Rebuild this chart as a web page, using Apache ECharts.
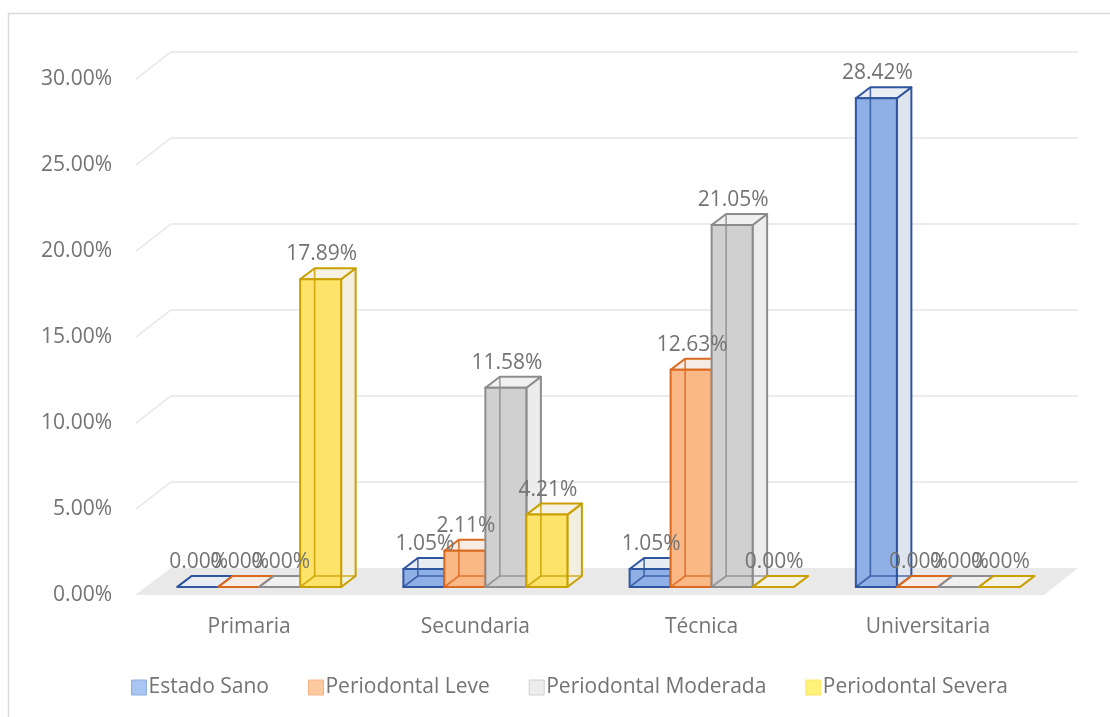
<!DOCTYPE html>
<html>
<head>
<meta charset="utf-8">
<script src="https://cdn.jsdelivr.net/npm/echarts@6/dist/echarts.min.js"></script>
<style>html,body{margin:0;padding:0;background:#fff}#c{width:1110px;height:717px}</style>
</head>
<body>
<div id="c"></div>
<script>
// ---- data ----
const categories = ['Primaria', 'Secundaria', 'Técnica', 'Universitaria'];
const seriesNames = ['Estado Sano', 'Periodontal Leve', 'Periodontal Moderada', 'Periodontal Severa'];
const estadoSano = [0.00, 1.05, 1.05, 28.42];
const periodontalLeve = [0.00, 2.11, 12.63, 0.00];
const periodontalModerada = [0.00, 11.58, 21.05, 0.00];
const periodontalSevera = [17.89, 4.21, 0.00, 0.00];
const yTicks = [0, 5, 10, 15, 20, 25, 30];

// ---- styles ----
const styles = [
  {front:'#8fb0e6', side:'#dfe4ee', top:'#e8ecf3', border:'#2f569f', legend:'#a9c5f1', legendBorder:'#8eaee0'},
  {front:'#fab887', side:'#f3e7de', top:'#f6ece4', border:'#d9691e', legend:'#fcca9f', legendBorder:'#f4b183'},
  {front:'#d0d0d0', side:'#ececec', top:'#f0f0f0', border:'#8c8c8c', legend:'#ededed', legendBorder:'#d0d0d0'},
  {front:'#fde36a', side:'#f2eee0', top:'#f5f1e3', border:'#c9a000', legend:'#fff27a', legendBorder:'#ffe566'}
];
const allValues = [estadoSano, periodontalLeve, periodontalModerada, periodontalSevera];
const GAP = 0.275;           // category gap fraction
const FX = 10, FY = 8;       // bar front offset from front plane
const DX = 14.5, DY = 11;    // bar depth
const WX = 35, WY = 27;      // wall depth
const TXT = '#737373';
const FONT = 'Open Sans';

function barGeom(api, sIdx, cat, val) {
  const top = api.coord([cat, val]);
  const base = api.coord([cat, 0]);
  const band = api.size([1, 0])[0];
  const bw = band * (1 - GAP) / 4;
  const x0 = base[0] - 2 * bw + sIdx * bw + FX;
  return {x0: x0, x1: x0 + bw, yT: top[1] - FY, yB: base[1] - FY, bw: bw};
}

function makeBarRender(sIdx) {
  const st = styles[sIdx];
  return function (params, api) {
    const g = barGeom(api, sIdx, api.value(0), api.value(1));
    const {x0, x1, yT, yB} = g;
    const lw = 2;
    const children = [
      {type:'polygon', shape:{points:[[x1,yB],[x1+DX,yB-DY],[x1+DX,yT-DY],[x1,yT]]},
        style:{fill:st.side, stroke:st.border, lineWidth:lw, lineJoin:'round'}},
      {type:'polygon', shape:{points:[[x0,yT],[x1,yT],[x1+DX,yT-DY],[x0+DX,yT-DY]]},
        style:{fill:st.top, stroke:st.border, lineWidth:lw, lineJoin:'round'}},
      {type:'rect', shape:{x:x0, y:yT, width:x1-x0, height:Math.max(yB-yT,0)},
        style:{fill:st.front, stroke:st.border, lineWidth:lw}},
      {type:'polyline', shape:{points:[[x0,yB],[x0+DX,yB-DY],[x0+DX,yT-DY]]},
        style:{fill:null, stroke:st.border, lineWidth:1.6, opacity:0.85}},
      {type:'line', shape:{x1:x0+DX, y1:yB-DY, x2:x1+DX, y2:yB-DY},
        style:{stroke:st.border, lineWidth:1.6, opacity:0.85}}
    ];
    return {type:'group', children: children};
  };
}

const barSeries = allValues.map(function (vals, sIdx) {
  return {
    name: seriesNames[sIdx],
    type: 'custom',
    coordinateSystem: 'cartesian2d',
    z: 3 + sIdx,
    itemStyle: {color: styles[sIdx].legend},
    renderItem: makeBarRender(sIdx),
    encode: {x: 0, y: 1},
    data: vals.map(function (v, i) { return [i, v]; })
  };
});

const labelData = [];
allValues.forEach(function (vals, sIdx) {
  vals.forEach(function (v, i) { labelData.push([i, v, sIdx]); });
});

const labelSeries = {
  name: 'labels', type: 'custom', coordinateSystem: 'cartesian2d', z: 20, silent: true,
  encode: {x: 0, y: 1},
  data: labelData,
  renderItem: function (params, api) {
    const g = barGeom(api, api.value(2), api.value(0), api.value(1));
    return {type:'text', style:{
      text: api.value(1).toFixed(2) + '%',
      x: (g.x0 + g.x1) / 2 + 1, y: g.yT - 25,
      textAlign:'center', textVerticalAlign:'middle',
      fill: TXT, font: '21px "' + FONT + '"'
    }};
  }
};

const wallSeries = {
  name: 'walls', type: 'custom', coordinateSystem: 'cartesian2d', z: 1, silent: true,
  encode: {x: 0, y: 1},
  data: yTicks.map(function (t) { return [0, t]; }),
  renderItem: function (params, api) {
    const cs = params.coordSys;
    const y = api.coord([0, api.value(1)])[1];
    const L = cs.x, R = cs.x + cs.width;
    if (api.value(1) === 0) {
      return {type:'polygon', shape:{points:[[L-1,y],[R+3,y],[R+WX+2,y-WY],[L+WX,y-WY]]},
        style:{fill:'#e9e9e9'}};
    }
    return {type:'polyline', shape:{points:[[L,y],[L+WX,y-WY],[R+WX+2,y-WY]]},
      style:{fill:null, stroke:'#e6e6e6', lineWidth:1.5}};
  }
};

const chart = echarts.init(document.getElementById('c'), null, {renderer:'canvas'});
chart.setOption({
  backgroundColor: '#ffffff',
  animation: false,
  textStyle: {fontFamily: FONT},
  graphic: [{type:'rect', shape:{x:8.5, y:13.5, width:1120, height:720},
    style:{fill:null, stroke:'#d9d9d9', lineWidth:1.5}, z:0}],
  grid: {left: 136, right: 69, top: 79, bottom: 122},
  xAxis: {
    type: 'category', data: categories,
    axisLine: {show:false}, axisTick: {show:false}, splitLine:{show:false},
    axisLabel: {color: TXT, fontSize: 21, margin: 22, fontFamily: FONT}
  },
  yAxis: {
    type: 'value', min: 0, max: 30, interval: 5,
    axisLine: {show:false}, axisTick: {show:false}, splitLine: {show:false},
    axisLabel: {color: TXT, fontSize: 21, margin: 24, fontFamily: FONT,
      formatter: function (v) { return v.toFixed(2) + '%'; }}
  },
  legend: {
    left: 126, top: 672, itemWidth: 15, itemHeight: 15, itemGap: 39,
    icon: 'rect',
    textStyle: {color: TXT, fontSize: 21, fontFamily: FONT, padding:[0,0,0,-3]},
    data: seriesNames.map(function (n, i) {
      return {name: n, itemStyle: {color: styles[i].legend, borderColor: styles[i].legendBorder, borderWidth: 1}};
    })
  },
  series: [wallSeries].concat(barSeries, [labelSeries])
});
</script>
</body>
</html>
